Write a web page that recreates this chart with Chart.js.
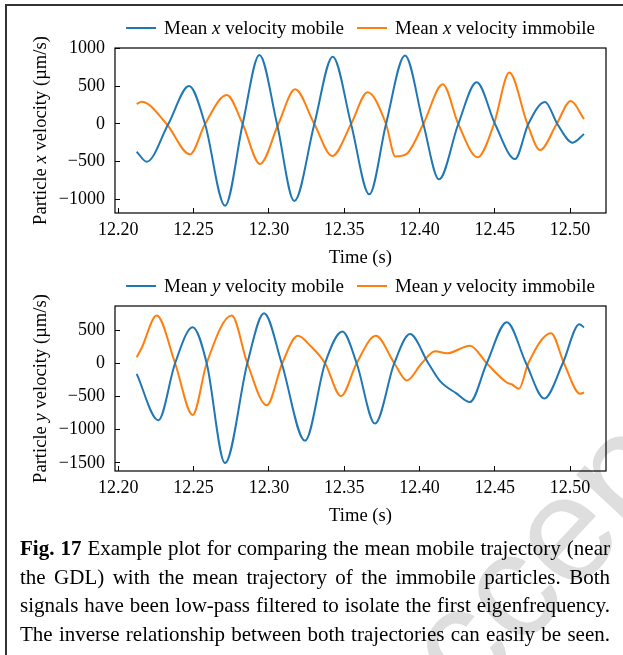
<!DOCTYPE html>
<html>
<head>
<meta charset="utf-8">
<script src="https://cdn.jsdelivr.net/npm/chart.js@4.4.0/dist/chart.umd.min.js"></script>
<style>
  body { margin: 0; background: #fff; }
  #page { position: relative; width: 623px; height: 655px; overflow: hidden; }
  #frame { position: absolute; left: 5px; top: 4px; right: -10px; bottom: -10px;
           border-top: 2px solid #333; border-left: 2px solid #333; }
  #mark { position: absolute; left: 0; top: 0; }
  .plot { position: absolute; left: 0; }
  #caption { position: absolute; left: 20px; top: 534px; width: 590px;
             font: 21px "Liberation Serif", serif; line-height: 28.6px; color: #000; }
  #caption div { text-align: justify; text-align-last: justify; white-space: nowrap; }
</style>
</head>
<body>
<div id="page">
  <canvas id="mark" width="623" height="655"></canvas>
  <div id="frame"></div>
  <canvas id="xChart" class="plot" style="top:0px" width="623" height="272"></canvas>
  <canvas id="yChart" class="plot" style="top:258px" width="623" height="272"></canvas>
  <div id="caption">
    <div><b>Fig. 17</b> Example plot for comparing the mean mobile trajectory (near</div>
    <div>the GDL) with the mean trajectory of the immobile particles. Both</div>
    <div>signals have been low-pass filtered to isolate the first eigenfrequency.</div>
    <div>The inverse relationship between both trajectories can easily be seen.</div>
  </div>
</div>
<script>
// x velocity (top plot), time in s, velocity in um/s
const tMobileX = [12.2122, 12.2189, 12.2332, 12.2470, 12.2576, 12.2709, 12.2826, 12.2937, 12.3054, 12.3169,
  12.3302, 12.3424, 12.3546, 12.3667, 12.3778, 12.3904, 12.4026, 12.4130, 12.4258, 12.4380,
  12.4502, 12.4635, 12.4723, 12.4834, 12.4916, 12.5018, 12.5093];
const vMobileX = [-368, -501, 0, 505, 0, -1086, 0, 917, 0, -1024,
  0, 895, 0, -935, 0, 909, 0, -736, 0, 554,
  0, -465, 0, 293, 0, -248, -133];
const tImmobileX = [12.2122, 12.2155, 12.2321, 12.2476, 12.2576, 12.2720, 12.2826, 12.2941, 12.3063, 12.3174,
  12.3302, 12.3421, 12.3546, 12.3656, 12.3778, 12.3840, 12.3910, 12.4026, 12.4155, 12.4258,
  12.4387, 12.4495, 12.4597, 12.4717, 12.4801, 12.4911, 12.5005, 12.5093];
const vImmobileX = [266, 297, 0, -403, 0, 386, 0, -532, 0, 461,
  0, -426, 0, 421, 0, -432, -405, 0, 528, 0,
  -443, 0, 683, 0, -346, 0, 306, 66];

// y velocity (bottom plot)
const tMobileY = [12.2122, 12.2266, 12.2377, 12.2494, 12.2587, 12.2709, 12.2857, 12.2968, 12.3085, 12.3240,
  12.3373, 12.3488, 12.3583, 12.3705, 12.3833, 12.3937, 12.4059, 12.4137, 12.4243, 12.4335,
  12.4447, 12.4580, 12.4708, 12.4829, 12.4952, 12.5062, 12.5093];
const vMobileY = [-160, -859, 0, 543, 0, -1503, 0, 753, 0, -1168,
  0, 479, 0, -909, 0, 439, 0, -270, -450, -584,
  0, 618, 0, -530, 0, 588, 539];
const tImmobileY = [12.2122, 12.2155, 12.2255, 12.2377, 12.2494, 12.2587, 12.2753, 12.2857, 12.2986, 12.3089,
  12.3192, 12.3273, 12.3373, 12.3479, 12.3583, 12.3710, 12.3833, 12.3916, 12.4015, 12.4104,
  12.4183, 12.4336, 12.4447, 12.4580, 12.4615, 12.4661, 12.4723, 12.4874, 12.4960, 12.5067, 12.5093];
const vImmobileY = [90, 229, 718, 0, -778, 0, 718, 0, -634, 0,
  413, 269, 0, -494, 0, 413, 0, -260, 0, 180,
  150, 264, 0, -290, -320, -385, 0, 453, 0, -460, -440];

const timeTicks = [12.20, 12.25, 12.30, 12.35, 12.40, 12.45, 12.50];
const ticksX = [-1000, -500, 0, 500, 1000];
const ticksY = [-1500, -1000, -500, 0, 500];

const FONT = '"Liberation Serif", serif';
const blue = '#1f77b4', orange = '#ff7f0e';

function pts(ts, vs) { return ts.map((t, i) => ({ x: t, y: vs[i] })); }

// draws text made of [string, italic] pieces
function richWidth(ctx, segs, size) {
  let w = 0;
  segs.forEach(s => { ctx.font = (s[1] ? 'italic ' : '') + size + 'px ' + FONT; w += ctx.measureText(s[0]).width; });
  return w;
}
function drawRich(ctx, segs, x, y, size) {
  segs.forEach(s => {
    ctx.font = (s[1] ? 'italic ' : '') + size + 'px ' + FONT;
    ctx.fillText(s[0], x, y);
    x += ctx.measureText(s[0]).width;
  });
}

const decor = {
  id: 'decor',
  afterDraw(chart, args, o) {
    const { ctx, chartArea: a } = chart;
    const cx = (a.left + a.right) / 2;
    ctx.save();
    ctx.strokeStyle = '#000';
    ctx.lineWidth = 1.2;
    ctx.strokeRect(a.left, a.top, a.right - a.left, a.bottom - a.top);
    ctx.fillStyle = '#000';
    ctx.textBaseline = 'middle';
    ctx.textAlign = 'left';

    // legend
    const handle = 30, gap = 8, between = 13;
    const items = chart.data.datasets.map(d => ({ color: d.borderColor, segs: d.segs }));
    let total = 0;
    items.forEach((it, i) => { it.w = richWidth(ctx, it.segs, 19); total += handle + gap + it.w + (i ? between : 0); });
    let x = cx - total / 2;
    items.forEach((it, i) => {
      if (i) x += between;
      ctx.strokeStyle = it.color; ctx.lineWidth = 2;
      ctx.beginPath(); ctx.moveTo(x, o.legendY); ctx.lineTo(x + handle, o.legendY); ctx.stroke();
      x += handle + gap;
      drawRich(ctx, it.segs, x, o.legendY + 1, 19);
      x += it.w;
    });

    // axis titles
    const w = richWidth(ctx, o.yTitle, 18.6);
    ctx.save();
    ctx.translate(41, (a.top + a.bottom) / 2);
    ctx.rotate(-Math.PI / 2);
    drawRich(ctx, o.yTitle, -w / 2, 0, 18.6);
    ctx.restore();
    ctx.font = '18.6px ' + FONT;
    ctx.textAlign = 'center';
    ctx.fillText('Time (s)', cx, o.xTitleY);
    ctx.restore();
  }
};

function fmt(v) { return v < 0 ? '\u2212' + Math.abs(v) : String(v); }

function makeChart(id, sets, yMin, yMax, yTicks, yTitle) {
  return new Chart(document.getElementById(id).getContext('2d'), {
    type: 'line',
    data: {
      datasets: sets.map(s => ({
        data: s.data, segs: s.segs, borderColor: s.color, borderWidth: 2,
        pointRadius: 0, fill: false, cubicInterpolationMode: 'monotone'
      }))
    },
    options: {
      responsive: false,
      animation: false,
      layout: { padding: { left: 0, right: 17, top: 48, bottom: 0 } },
      plugins: {
        legend: { display: false },
        tooltip: { enabled: false },
        decor: { legendY: 28, xTitleY: 258, yTitle: yTitle }
      },
      scales: {
        x: {
          type: 'linear', min: 12.1978, max: 12.5239,
          afterBuildTicks: s => { s.ticks = timeTicks.map(v => ({ value: v })); },
          afterFit: s => { s.height = 59; },
          grid: { drawOnChartArea: false, drawTicks: true, tickLength: -5, color: '#000' },
          border: { display: false },
          ticks: { color: '#000', padding: 11, maxRotation: 0, font: { family: FONT, size: 18 },
                   callback: v => v.toFixed(2) }
        },
        y: {
          min: yMin, max: yMax,
          afterBuildTicks: s => { s.ticks = yTicks.map(v => ({ value: v })); },
          afterFit: s => { s.width = 115; },
          grid: { drawOnChartArea: false, drawTicks: true, tickLength: -5, color: '#000' },
          border: { display: false },
          ticks: { color: '#000', padding: 15, font: { family: FONT, size: 18 }, callback: fmt }
        }
      }
    },
    plugins: [decor]
  });
}

makeChart('xChart', [
  { data: pts(tMobileX, vMobileX), color: blue, segs: [['Mean ', 0], ['x', 1], [' velocity mobile', 0]] },
  { data: pts(tImmobileX, vImmobileX), color: orange, segs: [['Mean ', 0], ['x', 1], [' velocity immobile', 0]] }
], -1183, 1010, ticksX, [['Particle ', 0], ['x', 1], [' velocity (\u00b5m/s)', 0]]);

makeChart('yChart', [
  { data: pts(tMobileY, vMobileY), color: blue, segs: [['Mean ', 0], ['y', 1], [' velocity mobile', 0]] },
  { data: pts(tImmobileY, vImmobileY), color: orange, segs: [['Mean ', 0], ['y', 1], [' velocity immobile', 0]] }
], -1623, 862, ticksY, [['Particle ', 0], ['y', 1], [' velocity (\u00b5m/s)', 0]]);

// faint watermark behind everything
const m = document.getElementById('mark').getContext('2d');
m.save();
m.translate(400, 780);
m.rotate(-47 * Math.PI / 180);
m.fillStyle = '#dedede';
m.font = '150px "Liberation Sans", sans-serif';
m.fillText('Accepted', 0, 0);
m.restore();
</script>
</body>
</html>
